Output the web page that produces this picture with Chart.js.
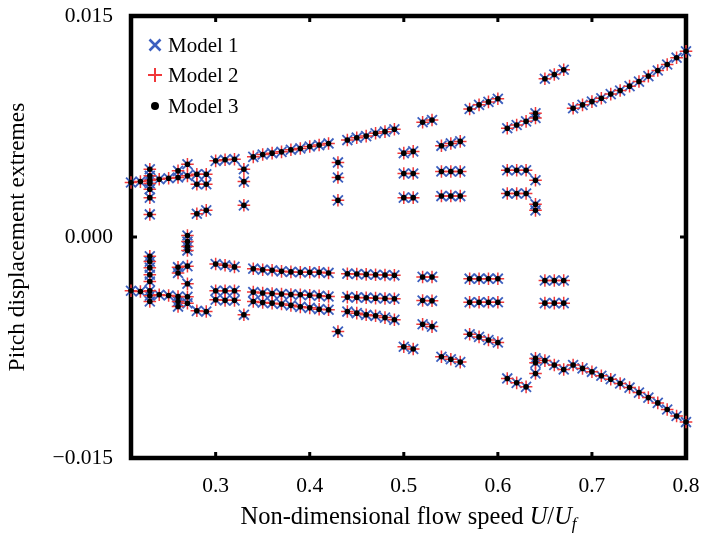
<!DOCTYPE html>
<html lang="en">
<head>
  <meta charset="UTF-8" />
  <title>Pitch displacement extremes</title>
  <script src="https://cdn.jsdelivr.net/npm/chart.js"></script>
  <style>
    html, body { margin: 0; padding: 0; background: #fff; }
    .chart-box { width: 702px; height: 541px; position: relative; }
  </style>
</head>
<body>
  <div class="chart-box">
    <canvas id="pitchChart"></canvas>
  </div>

  <script>
    // Non-dimensional flow speed U/Uf, one column of extremes per speed
    const flowSpeed = [
      0.21, 0.22, 0.23, 0.24, 0.25, 0.26, 0.27, 0.28, 0.29, 0.30,
      0.31, 0.32, 0.33, 0.34, 0.35, 0.36, 0.37, 0.38, 0.39, 0.40,
      0.41, 0.42, 0.43, 0.44, 0.45, 0.46, 0.47, 0.48, 0.49, 0.50,
      0.51, 0.52, 0.53, 0.54, 0.55, 0.56, 0.57, 0.58, 0.59, 0.60,
      0.61, 0.62, 0.63, 0.64, 0.65, 0.66, 0.67, 0.68, 0.69, 0.70,
      0.71, 0.72, 0.73, 0.74, 0.75, 0.76, 0.77, 0.78, 0.79, 0.80
    ];

    // pitch displacement extremes (same for all three models)
    const pitchExtremes = [
      [0.00370, -0.00365],
      [0.00376, -0.00370],
      [0.00460, 0.00415, 0.00385, 0.00363, 0.00324, 0.00267, 0.00153, -0.00131, -0.00167, -0.00208, -0.00256, -0.00302, -0.00365, -0.00399, -0.00438],
      [0.00392, -0.00392],
      [0.00399, -0.00397],
      [0.00449, 0.00404, -0.00205, -0.00244, -0.00404, -0.00438, -0.00472],
      [0.00494, 0.00415, 0.00010, -0.00031, -0.00065, -0.00092, -0.00198, -0.00317, -0.00406, -0.00450],
      [0.00426, 0.00358, 0.00158, -0.00501],
      [0.00426, 0.00358, 0.00181, -0.00506],
      [0.00517, -0.00183, -0.00365, -0.00426],
      [0.00524, -0.00192, -0.00365, -0.00430],
      [0.00528, -0.00203, -0.00365, -0.00430],
      [0.00460, 0.00376, 0.00215, -0.00528],
      [0.00544, -0.00215, -0.00374, -0.00438],
      [0.00560, -0.00222, -0.00380, -0.00445],
      [0.00569, -0.00226, -0.00383, -0.00449],
      [0.00578, -0.00233, -0.00387, -0.00455],
      [0.00592, -0.00237, -0.00390, -0.00464],
      [0.00601, -0.00239, -0.00392, -0.00474],
      [0.00614, -0.00239, -0.00395, -0.00481],
      [0.00624, -0.00239, -0.00399, -0.00490],
      [0.00635, -0.00244, -0.00404, -0.00494],
      [0.00506, 0.00404, 0.00249, -0.00642],
      [0.00658, -0.00249, -0.00408, -0.00506],
      [0.00674, -0.00251, -0.00410, -0.00517],
      [0.00685, -0.00254, -0.00412, -0.00528],
      [0.00704, -0.00256, -0.00415, -0.00535],
      [0.00715, -0.00258, -0.00417, -0.00547],
      [0.00731, -0.00260, -0.00419, -0.00562],
      [0.00569, 0.00431, 0.00267, -0.00745],
      [0.00581, 0.00431, 0.00267, -0.00760],
      [0.00779, -0.00271, -0.00431, -0.00592],
      [0.00794, -0.00271, -0.00433, -0.00608],
      [0.00619, 0.00445, 0.00278, -0.00813],
      [0.00635, 0.00445, 0.00278, -0.00830],
      [0.00649, 0.00445, 0.00278, -0.00849],
      [0.00869, -0.00283, -0.00443, -0.00660],
      [0.00897, -0.00283, -0.00443, -0.00678],
      [0.00917, -0.00283, -0.00443, -0.00699],
      [0.00938, -0.00283, -0.00443, -0.00716],
      [0.00738, 0.00453, 0.00295, -0.00960],
      [0.00760, 0.00453, 0.00295, -0.00990],
      [0.00785, 0.00453, 0.00295, -0.01017],
      [0.00840, 0.00808, 0.00385, 0.00222, 0.00181, -0.00824, -0.00854, -0.00926],
      [0.01074, -0.00295, -0.00449, -0.00839],
      [0.01103, -0.00295, -0.00449, -0.00869],
      [0.01135, -0.00295, -0.00449, -0.00899],
      [0.00874, -0.00869],
      [0.00897, -0.00892],
      [0.00919, -0.00915],
      [0.00942, -0.00942],
      [0.00970, -0.00965],
      [0.00994, -0.00994],
      [0.01024, -0.01022],
      [0.01055, -0.01056],
      [0.01092, -0.01090],
      [0.01130, -0.01126],
      [0.01171, -0.01171],
      [0.01217, -0.01215],
      [0.01260, -0.01256]
    ];

    const xTicks = [0.3, 0.4, 0.5, 0.6, 0.7, 0.8];
    const yTicks = [-0.015, 0, 0.015];
    const modelLabels = ['Model 1', 'Model 2', 'Model 3'];

    const BLUE = '#3c5fbf';
    const RED = '#f0383a';
    const SERIF = '"Liberation Serif", "Times New Roman", serif';

    function buildPoints() {
      const pts = [];
      flowSpeed.forEach((u, i) => {
        pitchExtremes[i].forEach(v => pts.push({ x: u, y: v }));
      });
      return pts;
    }

    // thick box round the plot + small inward ticks
    const framePlugin = {
      id: 'frame',
      beforeDatasetsDraw(chart) {
        const { ctx, chartArea: a, scales: { x, y } } = chart;
        ctx.save();
        ctx.strokeStyle = '#000';
        ctx.lineWidth = 4.5;
        ctx.strokeRect(a.left, a.top, a.right - a.left, a.bottom - a.top);
        ctx.lineWidth = 3;
        ctx.beginPath();
        xTicks.slice(0, -1).forEach(v => {
          const px = x.getPixelForValue(v);
          ctx.moveTo(px, a.bottom); ctx.lineTo(px, a.bottom - 6);
          ctx.moveTo(px, a.top); ctx.lineTo(px, a.top + 6);
        });
        const py = y.getPixelForValue(0);
        ctx.moveTo(a.left, py); ctx.lineTo(a.left + 6, py);
        ctx.moveTo(a.right, py); ctx.lineTo(a.right - 6, py);
        ctx.stroke();
        ctx.restore();
      }
    };

    // legend inside the plot (top left) and the x axis title with italic U/Uf
    const labelsPlugin = {
      id: 'labels',
      afterDraw(chart) {
        const { ctx, chartArea: a } = chart;
        ctx.save();
        const lx = a.left + 24;
        const rows = [a.top + 29, a.top + 59, a.top + 90];
        // model 1: blue x
        ctx.lineWidth = 2.6;
        ctx.strokeStyle = BLUE;
        ctx.beginPath();
        ctx.moveTo(lx - 5.5, rows[0] - 5.5); ctx.lineTo(lx + 5.5, rows[0] + 5.5);
        ctx.moveTo(lx + 5.5, rows[0] - 5.5); ctx.lineTo(lx - 5.5, rows[0] + 5.5);
        ctx.stroke();
        // model 2: red +
        ctx.lineWidth = 2;
        ctx.strokeStyle = RED;
        ctx.beginPath();
        ctx.moveTo(lx - 7, rows[1]); ctx.lineTo(lx + 7, rows[1]);
        ctx.moveTo(lx, rows[1] - 7); ctx.lineTo(lx, rows[1] + 7);
        ctx.stroke();
        // model 3: black dot
        ctx.fillStyle = '#000';
        ctx.beginPath();
        ctx.arc(lx, rows[2], 4, 0, Math.PI * 2);
        ctx.fill();

        ctx.font = '21px ' + SERIF;
        ctx.textBaseline = 'middle';
        ctx.textAlign = 'left';
        modelLabels.forEach((t, i) => ctx.fillText(t, lx + 13, rows[i] + 1));

        // x axis title
        const parts = [
          { t: 'Non-dimensional flow speed ', f: '24.5px ' + SERIF, dy: 0 },
          { t: 'U', f: 'italic 24.5px ' + SERIF, dy: 0 },
          { t: '/', f: '24.5px ' + SERIF, dy: 0 },
          { t: 'U', f: 'italic 24.5px ' + SERIF, dy: 0 },
          { t: 'f', f: 'italic 17px ' + SERIF, dy: 5 }
        ];
        let total = 0;
        parts.forEach(p => { ctx.font = p.f; p.w = ctx.measureText(p.t).width; total += p.w; });
        let tx = (a.left + a.right) / 2 - total / 2;
        const ty = 524;
        ctx.textBaseline = 'alphabetic';
        parts.forEach(p => {
          ctx.font = p.f;
          ctx.fillText(p.t, tx, ty + p.dy);
          tx += p.w;
        });
        ctx.restore();
      }
    };

    const points = buildPoints();

    const ctx = document.getElementById('pitchChart').getContext('2d');
    const pitchChart = new Chart(ctx, {
      type: 'scatter',
      data: {
        datasets: [
          {
            label: modelLabels[0],
            data: points,
            pointStyle: 'crossRot',
            pointRadius: 7,
            borderColor: BLUE,
            backgroundColor: BLUE,
            borderWidth: 1.8,
            pointBorderWidth: 1.8,
            order: 2,
            clip: false
          },
          {
            label: modelLabels[1],
            data: points,
            pointStyle: 'cross',
            pointRadius: 6.3,
            borderColor: RED,
            backgroundColor: RED,
            borderWidth: 1.5,
            pointBorderWidth: 1.5,
            order: 1,
            clip: false
          },
          {
            label: modelLabels[2],
            data: points,
            pointStyle: 'circle',
            pointRadius: 2.8,
            borderColor: '#000',
            backgroundColor: '#000',
            borderWidth: 0,
            pointBorderWidth: 0,
            order: 0,
            clip: false
          }
        ]
      },
      options: {
        responsive: true,
        maintainAspectRatio: false,
        animation: false,
        events: [],
        layout: { padding: { top: 16, right: 16, left: 0, bottom: 0 } },
        plugins: {
          legend: { display: false },
          tooltip: { enabled: false }
        },
        scales: {
          x: {
            type: 'linear',
            min: 0.21,
            max: 0.8,
            afterBuildTicks: axis => { axis.ticks = xTicks.map(v => ({ value: v })); },
            afterFit: scale => {
              scale.height = 83;
              scale.paddingLeft = 0;
              scale.paddingRight = 0;
            },
            grid: { display: false, drawTicks: false },
            border: { display: false },
            ticks: {
              padding: 15,
              color: '#000',
              maxRotation: 0,
              font: { family: SERIF, size: 21.5 },
              callback: v => v.toFixed(1)
            }
          },
          y: {
            type: 'linear',
            min: -0.015,
            max: 0.015,
            afterBuildTicks: axis => { axis.ticks = yTicks.map(v => ({ value: v })); },
            afterFit: scale => {
              scale.width = 131;
              scale.paddingTop = 0;
              scale.paddingBottom = 0;
            },
            grid: { display: false, drawTicks: false },
            border: { display: false },
            ticks: {
              padding: 18,
              color: '#000',
              font: { family: SERIF, size: 21.5 },
              callback: v => v.toFixed(3).replace('-', '\u2212')
            },
            title: {
              display: true,
              text: 'Pitch displacement extremes',
              color: '#000',
              font: { family: SERIF, size: 23.5 },
              padding: { top: 4, bottom: 0 }
            }
          }
        }
      },
      plugins: [framePlugin, labelsPlugin]
    });
  </script>
</body>
</html>
